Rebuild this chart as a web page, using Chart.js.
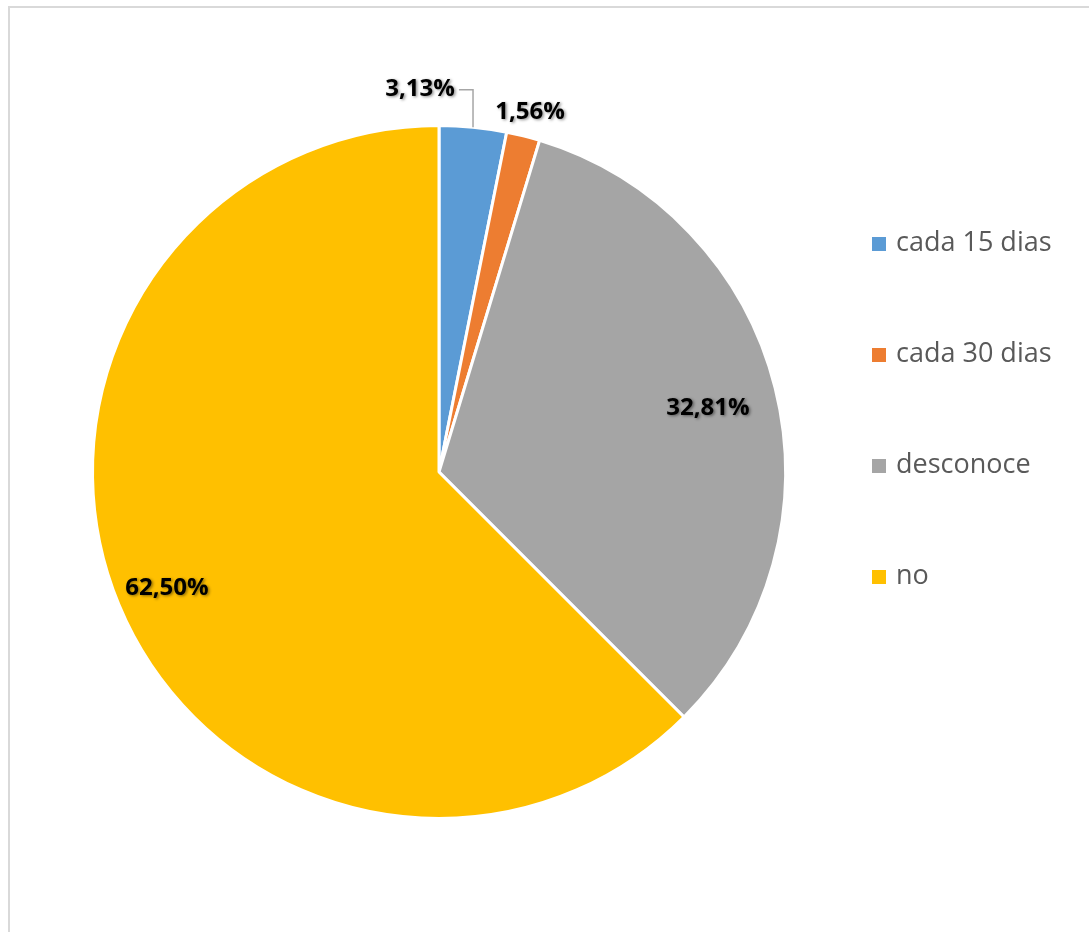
<!DOCTYPE html>
<html>
<head>
<meta charset="utf-8">
<script src="https://cdn.jsdelivr.net/npm/chart.js@4"></script>
<style>
  body { margin: 0; background: #fff; }
  canvas { display: block; }
</style>
</head>
<body>
<canvas id="myChart" width="1089" height="932"></canvas>
<script>
const labels = ["cada 15 dias", "cada 30 dias", "desconoce", "no"];
const values = [3.13, 1.56, 32.81, 62.5];
const colors = ["#5B9BD5", "#ED7D31", "#A5A5A5", "#FFC000"];

// where each value label sits: fraction of the radius along the slice's middle
const labelRadius = [1.12, 1.08, 0.8, 0.85];
const labelShiftX = [-57, 0, 0, 0];

const fmt = (v) => v.toFixed(2).replace(".", ",") + "%";

// light frame behind the chart
const framePlugin = {
  id: "frame",
  beforeDraw(chart) {
    const ctx = chart.ctx;
    ctx.save();
    ctx.fillStyle = "#fff";
    ctx.fillRect(0, 0, chart.width, chart.height);
    ctx.strokeStyle = "#d9d9d9";
    ctx.lineWidth = 2;
    ctx.strokeRect(9, 7, chart.width + 20, chart.height + 20);
    ctx.restore();
  },
};

// percentage labels on / next to the slices
const valueLabels = {
  id: "valueLabels",
  afterDatasetsDraw(chart) {
    const ctx = chart.ctx;
    const meta = chart.getDatasetMeta(0);
    ctx.save();
    ctx.font = "bold 24px 'Open Sans'";
    ctx.textAlign = "center";
    ctx.textBaseline = "middle";
    meta.data.forEach((arc, i) => {
      const mid = (arc.startAngle + arc.endAngle) / 2;
      const r = arc.outerRadius * labelRadius[i];
      const x = arc.x + Math.cos(mid) * r + labelShiftX[i];
      const y = arc.y + Math.sin(mid) * r + 3;
      const text = fmt(values[i]);
      if (labelShiftX[i] !== 0) {
        // leader line from label to the slice edge
        const ex = arc.x + Math.cos(mid) * arc.outerRadius;
        const ey = arc.y + Math.sin(mid) * arc.outerRadius;
        const w = ctx.measureText(text).width;
        ctx.strokeStyle = "#a6a6a6";
        ctx.lineWidth = 1.5;
        ctx.beginPath();
        ctx.moveTo(x + w / 2 + 4, y + 1);
        ctx.lineTo(ex, y + 1);
        ctx.lineTo(ex, ey);
        ctx.stroke();
      }
      ctx.shadowColor = "rgba(0,0,0,0.45)";
      ctx.shadowBlur = 3;
      ctx.shadowOffsetX = 1.5;
      ctx.shadowOffsetY = 1.5;
      ctx.fillStyle = "#000";
      ctx.fillText(text, x, y);
      ctx.shadowColor = "transparent";
    });
    ctx.restore();
  },
};

// legend on the right, one item per row
const sideLegend = {
  id: "sideLegend",
  afterDraw(chart) {
    const ctx = chart.ctx;
    ctx.save();
    ctx.font = "27px 'Open Sans'";
    ctx.textBaseline = "middle";
    ctx.textAlign = "left";
    labels.forEach((lab, i) => {
      const y = 244 + i * 111;
      ctx.fillStyle = colors[i];
      ctx.fillRect(872, y - 7, 14, 14);
      ctx.fillStyle = "#595959";
      ctx.fillText(lab, 896, y - 1);
    });
    ctx.restore();
  },
};

const data = {
  labels: labels,
  datasets: [
    {
      data: values,
      backgroundColor: colors,
      borderColor: "#fff",
      borderWidth: 3,
    },
  ],
};

const config = {
  type: "pie",
  data,
  options: {
    responsive: false,
    animation: false,
    layout: {
      padding: { left: 91, top: 124, right: 302, bottom: 112 },
    },
    plugins: {
      legend: { display: false },
      tooltip: { enabled: false },
    },
  },
  plugins: [framePlugin, valueLabels, sideLegend],
};

const myChart = new Chart(document.getElementById("myChart"), config);
</script>
</body>
</html>
